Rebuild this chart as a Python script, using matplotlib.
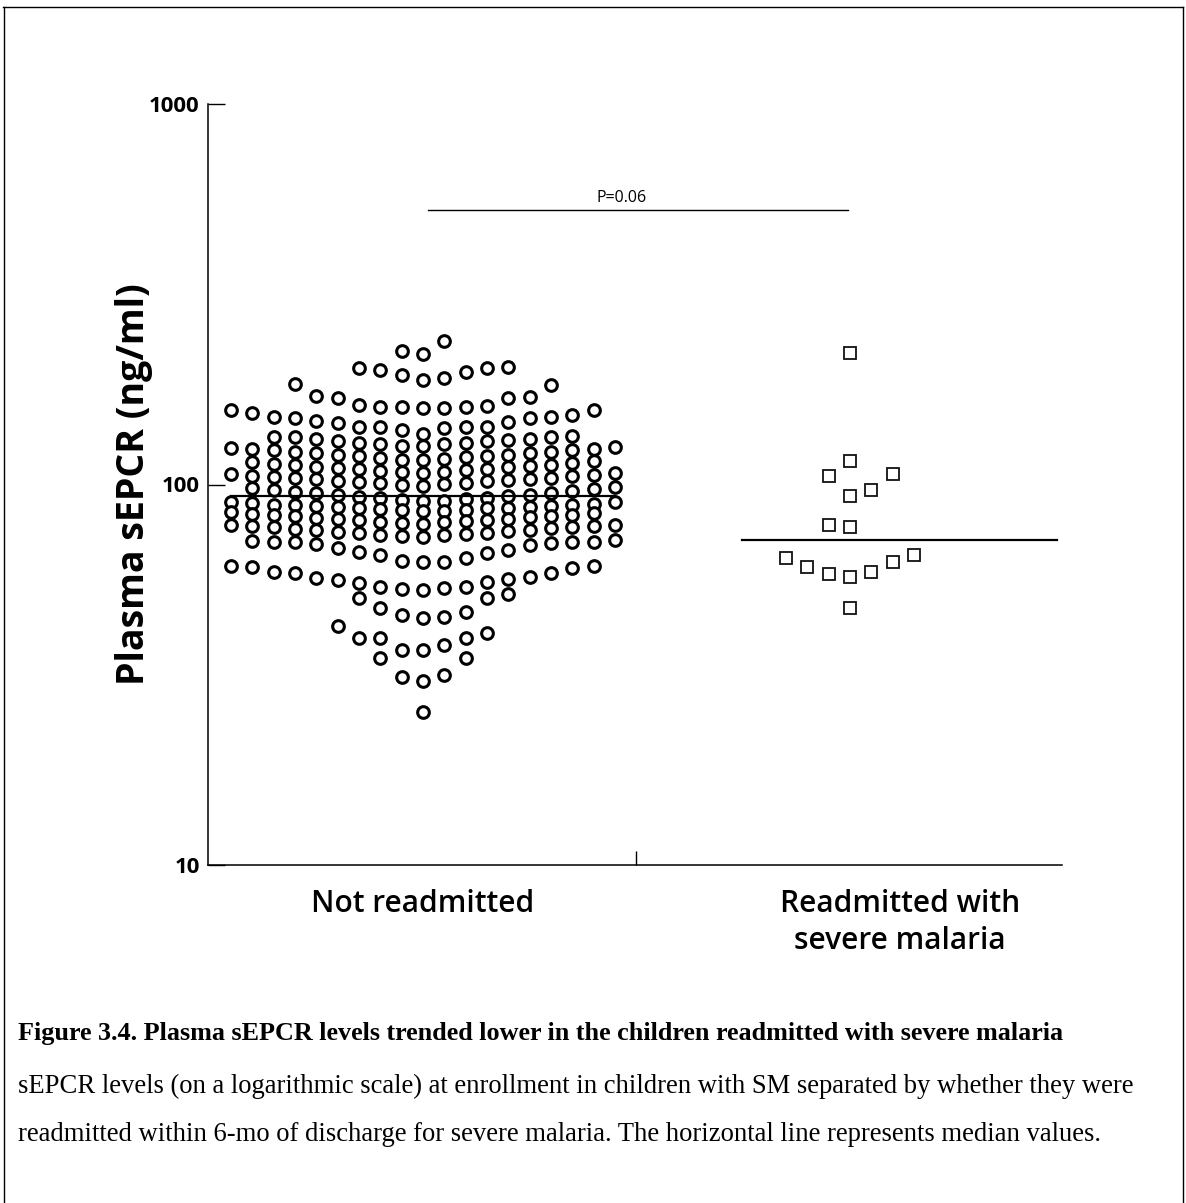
import numpy as np
import matplotlib
matplotlib.use("Agg")
import matplotlib.pyplot as plt
from matplotlib.lines import Line2D

# Plasma sEPCR (ng/ml) at enrollment, children with severe malaria
not_readmitted = [
    238.3, 224.3, 220.3,
    203.0, 202.4, 201.8, 200.0, 197.5, 194.0, 190.5, 188.2,
    183.7, 182.6, 170.8, 169.3, 168.8, 168.3, 161.8, 160.8, 159.8, 159.6, 159.4, 159.2, 158.9,
    157.0, 156.5, 154.1, 152.3, 150.4, 150.0, 149.5, 149.1, 146.9, 146.4, 145.1, 142.0,
    141.6, 141.4, 141.2, 140.8, 139.1, 135.7,
    134.4, 133.6, 133.2, 132.9, 131.8, 131.6, 130.7, 130.1, 129.8, 128.9, 128.6, 127.7,
    127.4, 126.5, 126.2, 125.8, 124.9, 124.3, 124.0, 123.1, 122.9, 122.0, 121.8, 121.0,
    120.7, 119.9, 119.6, 118.8, 118.5, 117.8, 117.2, 116.8, 116.3, 115.9,
    115.0, 114.5, 113.7, 113.4, 112.8, 112.2, 111.9, 111.3, 110.9, 110.5, 109.9, 109.6,
    109.0, 108.7, 108.1, 107.8, 107.2, 106.9, 106.3, 106.0, 105.5, 105.0, 104.8, 104.2,
    103.9, 103.3, 103.1, 102.6, 102.2, 101.9, 101.4, 101.0, 100.7, 100.2, 99.8, 99.3,
    98.6, 98.2, 97.4, 97.0, 96.2, 95.8, 95.0, 94.7, 94.1, 93.8, 93.3, 92.9, 92.3, 92.1,
    91.5, 91.2, 90.6, 90.4, 89.9, 89.7, 89.2, 89.1, 88.6, 88.5, 88.1, 87.9, 87.6, 87.5,
    87.1, 86.9, 86.6, 86.5, 86.1, 85.9, 85.5, 85.4, 85.1,
    84.6, 84.1, 83.7, 83.3, 83.0, 82.6, 82.4, 82.1, 81.7, 81.4, 81.0, 80.8, 80.5, 80.1,
    79.8, 79.6, 79.2, 78.9, 78.5, 78.3, 78.0, 77.6, 77.3, 77.1, 76.7, 76.4, 76.0, 75.8,
    75.4, 75.1, 74.7, 74.5, 74.2, 73.8, 73.6, 73.3, 73.0,
    71.5, 71.1, 70.8, 70.7, 70.6, 70.4, 70.2, 69.6, 69.3, 68.1, 67.3, 66.5, 66.1, 65.3,
    64.1, 62.8, 62.6, 62.4,
    61.1, 60.9, 60.7, 60.5, 58.9, 58.7, 58.5, 57.0, 56.8, 56.3, 56.1, 55.4, 55.1, 53.9,
    53.8, 53.5, 53.0, 52.8,
    51.5, 50.3, 50.2, 47.4, 46.2, 45.4, 44.9, 44.6,
    42.5, 40.7, 39.6, 39.5, 39.4, 37.9, 36.8, 36.7,
    35.1, 35.0, 31.6, 31.2, 30.4,
    25.2,
]

readmitted = [221.6, 115.3, 106.6, 105.3, 96.7, 93.3, 78.3, 77.3,
              65.3, 64.1, 62.6, 60.7, 58.9, 58.2, 57.1, 47.4]

group_labels = ["Not readmitted", "Readmitted with\nsevere malaria"]
y_ticks = [10, 100, 1000]
y_tick_labels = ["10", "100", "1000"]
y_label = "Plasma sEPCR (ng/ml)"
p_text = "P=0.06"
p_bracket_level = 526

caption_title = ("Figure 3.4. Plasma sEPCR levels trended lower in the children "
                 "readmitted with severe malaria")
caption_body = [
    "sEPCR levels (on a logarithmic scale) at enrollment in children with SM "
    "separated by whether they were",
    "readmitted within 6-mo of discharge for severe malaria. The horizontal "
    "line represents median values.",
]

SANS = ["Open Sans", "DejaVu Sans"]
SERIF = ["Liberation Serif", "DejaVu Serif"]


def swarm_offsets(values, step=0.05, band=0.0655, max_cols=19, first_side=-1):
    """Column offsets for a binned dot plot.

    Values are sorted ascending and grouped into bands of width `band`
    (log10 units) measured from the lowest value of each band.  Inside a band
    the lowest value sits in the centre column and the following ones spread
    outward, alternating sides; bands wider than `max_cols` wrap around.
    """
    v = np.asarray(values, dtype=float)
    lv = np.log10(v)
    order = np.argsort(lv, kind="stable")
    offs = np.zeros(len(v))
    side = first_side
    i, n = 0, len(v)
    while i < n:
        start = lv[order[i]]
        k = 0
        while i < n and lv[order[i]] - start < band:
            slot = k % max_cols
            if slot == 0:
                col = 0
            else:
                col = side * ((slot + 1) // 2)
                side = -side
            offs[order[i]] = col * step
            i += 1
            k += 1
    return offs


W, H = 1186, 1203
fig = plt.figure(figsize=(W / 100, H / 100), dpi=100)

# axes box in pixel units of the page
ax_left, ax_right, ax_top, ax_bottom = 208, 1062, 104, 865
ax = fig.add_axes([ax_left / W, 1 - ax_bottom / H,
                   (ax_right - ax_left) / W, (ax_bottom - ax_top) / H])

ax.set_yscale("log")
ax.set_ylim(10, 1000)
ax.set_xlim(-0.5035, 1.4965)

for s in ("top", "right"):
    ax.spines[s].set_visible(False)
for s in ("left", "bottom"):
    ax.spines[s].set_linewidth(1.1)
    ax.spines[s].set_color("black")

ax.set_yticks(y_ticks)
ax.set_yticklabels(y_tick_labels)
ax.yaxis.set_minor_locator(matplotlib.ticker.NullLocator())
ax.tick_params(axis="y", direction="in", length=12, width=1.0, pad=6,
               labelsize=16)
for t in ax.get_yticklabels():
    t.set_fontfamily(SANS)
    t.set_fontweight("bold")

ax.set_xticks([0.5])
ax.set_xticklabels([""])
ax.tick_params(axis="x", direction="in", length=10, width=1.0)

ax.set_ylabel(y_label, fontsize=27, fontweight="bold", family=SANS, labelpad=-3)

# group 1: open circles
y1 = np.asarray(not_readmitted)
x1 = 0 + swarm_offsets(y1)
ax.plot(x1, y1, ls="none", marker="o", ms=8.4, mfc="white", mec="black",
        mew=2.2, zorder=3)

# group 2: open squares
y2 = np.asarray(readmitted)
x2 = 1 + swarm_offsets(y2)
ax.plot(x2, y2, ls="none", marker="s", ms=9.0, mfc="white", mec="#111111",
        mew=1.3, zorder=3)

# median lines
ax.plot([-0.45, 0.45], [np.median(y1)] * 2, color="black", lw=1.6, zorder=4)
ax.plot([0.747, 1.485], [np.median(y2)] * 2, color="black", lw=1.6, zorder=4)

# comparison bracket
ax.plot([0.012, 0.995], [p_bracket_level] * 2, color="black", lw=1.0)
ax.annotate(p_text, xy=(0.466, p_bracket_level), xytext=(0, 3),
            textcoords="offset points", ha="center", va="bottom",
            fontsize=11.5, family=SANS)

# group labels under the axis
label_x = [0.0, 1.117]
for lx, lab in zip(label_x, group_labels):
    ax.annotate(lab, xy=(lx, 0), xycoords=("data", "axes fraction"),
                xytext=(0, -17), textcoords="offset points",
                ha="center", va="top", fontsize=21.5, fontweight="semibold",
                family=SANS, linespacing=1.3)

# page frame
frame_kw = dict(color="black", lw=1.0, transform=fig.transFigure)
fig.add_artist(Line2D([3.5 / W, 3.5 / W], [0, 1 - 7 / H], **frame_kw))
fig.add_artist(Line2D([1182.5 / W, 1182.5 / W], [0, 1 - 7 / H], **frame_kw))
fig.add_artist(Line2D([3 / W, 1183 / W], [1 - 7 / H, 1 - 7 / H], **frame_kw))

# caption
fig.text(18 / W, 1 - 1040 / H, caption_title, family=SERIF, fontweight="bold",
         fontsize=18.8, va="baseline", ha="left")
for k, line in enumerate(caption_body):
    fig.text(18 / W, 1 - (1093 + 48 * k) / H, line, family=SERIF,
             fontsize=19.2, va="baseline", ha="left")

fig.savefig("out.png", dpi=100, facecolor="white")
